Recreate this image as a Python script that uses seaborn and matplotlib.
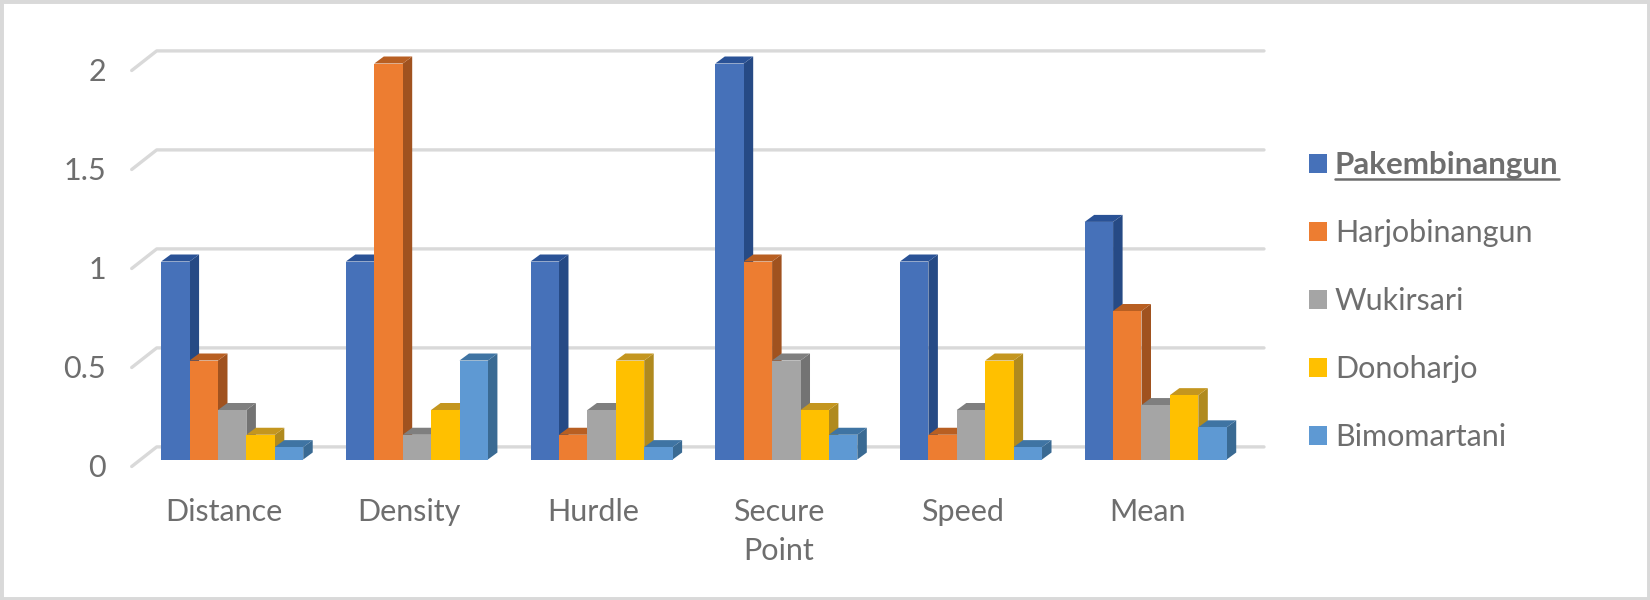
import matplotlib
matplotlib.use("Agg")
import matplotlib.pyplot as plt
from matplotlib.lines import Line2D
from matplotlib.patches import Polygon, Rectangle, Patch
from matplotlib.transforms import Affine2D
import pandas as pd
import seaborn as sns

categories = ["Distance", "Density", "Hurdle", "Secure\nPoint", "Speed", "Mean"]
pakembinangun = [1, 1, 1, 2, 1, 1.2]
harjobinangun = [0.5, 2, 0.125, 1, 0.125, 0.75]
wukirsari = [0.25, 0.125, 0.25, 0.5, 0.25, 0.275]
donoharjo = [0.125, 0.25, 0.5, 0.25, 0.5, 0.325]
bimomartani = [0.0625, 0.5, 0.0625, 0.125, 0.0625, 0.1625]
series_names = ["Pakembinangun", "Harjobinangun", "Wukirsari", "Donoharjo", "Bimomartani"]
series_values = [pakembinangun, harjobinangun, wukirsari, donoharjo, bimomartani]
front_colors = ["#4671B9", "#ED7D31", "#A5A5A5", "#FFC000", "#5E99D3"]
side_colors = ["#264A85", "#A0521F", "#737373", "#B08A1E", "#3A6A93"]
top_colors = ["#2A5296", "#B85F22", "#7F7F7F", "#C4961F", "#3F74A3"]
y_ticks = [0, 0.5, 1, 1.5, 2]
y_labels = ["0", "0.5", "1", "1.5", "2"]

sns.set_theme(style="white")
TEXT = "#6E6E6E"
plt.rcParams["font.family"] = ["Lato", "DejaVu Sans"]

W, H = 1650, 600
fig = plt.figure(figsize=(W / 100, H / 100), dpi=100, facecolor="white")
L, R, B, T = 131.7, 1264.0, 459.5, 50.5
ax = fig.add_axes([L / W, 1 - B / H, (R - L) / W, (B - T) / H])
ax.patch.set_alpha(0)

df = pd.DataFrame(
    [(c, n, v) for n, vals in zip(series_names, series_values) for c, v in zip(categories, vals)],
    columns=["cat", "village", "value"],
)
sns.barplot(data=df, x="cat", y="value", hue="village", hue_order=series_names,
            order=categories, palette=front_colors, saturation=1, width=0.769,
            gap=0, linewidth=0, legend=False, ax=ax)

PX_X = 184.7   # pixels per category
PX_Y = 198.0   # pixels per unit
ax.set_xlim((L - 232.2) / PX_X, (R - 232.2) / PX_X)
ax.set_ylim(0, (B - T) / PX_Y)
ddx, ddy = 9.5 / PX_X, 7.0 / PX_Y

for i, cont in enumerate(ax.containers):
    for p in cont.patches:
        x0, w, h = p.get_x(), p.get_width(), p.get_height()
        x1 = x0 + w
        p.set_zorder(3 + i + 0.5)
        side = Polygon([(x1, 0), (x1 + ddx, ddy), (x1 + ddx, h + ddy), (x1, h)],
                       closed=True, fc=side_colors[i], ec="none", zorder=3 + i, clip_on=False)
        top = Polygon([(x0, h), (x0 + ddx, h + ddy), (x1 + ddx, h + ddy), (x1, h)],
                      closed=True, fc=top_colors[i], ec="none", zorder=3 + i, clip_on=False)
        ax.add_patch(side)
        ax.add_patch(top)

# back wall gridlines with slanted floor/wall return
xl, xr = ax.get_xlim()
back_x = xl + 25.0 / PX_X
for v in y_ticks:
    yb = v + 12.6 / PX_Y
    yf = v - 7.0 / PX_Y
    ax.plot([xl, back_x, xr], [yf, yb, yb], color="#D9D9D9", lw=2.4, zorder=1,
            clip_on=False, solid_joinstyle="round")

ax.set_yticks(y_ticks)
ax.set_yticklabels(y_labels)
ax.set_xlabel("")
ax.set_ylabel("")
ax.tick_params(axis="y", length=0, pad=18.5, labelsize=22, labelcolor=TEXT)
ax.tick_params(axis="x", length=0, pad=27.5, labelsize=22, labelcolor=TEXT)
for s in ax.spines.values():
    s.set_visible(False)
for lab in ax.get_yticklabels():
    lab.set_transform(lab.get_transform() + Affine2D().translate(0, -6))
for lab in ax.get_xticklabels():
    lab.set_linespacing(1.5)
    lab.set_transform(lab.get_transform() + Affine2D().translate(-8, 0))

handles = [Patch(fc=c, ec="none") for c in front_colors]
leg = fig.legend(handles, series_names, loc="upper left", bbox_to_anchor=(1309 / W, 1 - 151 / H),
                 frameon=False, fontsize=22, labelcolor=TEXT, handlelength=0.59, handleheight=0.59,
                 handletextpad=0.26, labelspacing=1.31, borderpad=0, borderaxespad=0)
leg.get_texts()[0].set_fontweight("bold")
leg.get_texts()[0].set_fontsize(22.5)

fig.canvas.draw()
bb = leg.get_texts()[0].get_window_extent()
fig.add_artist(Line2D([bb.x0 / W, bb.x1 / W], [1 - 178.7 / H] * 2, color=TEXT, lw=1.8))

fig.add_artist(Rectangle((0, 0), 1, 1, transform=fig.transFigure, fc="none", ec="#D9D9D9", lw=5))
fig.savefig("out.png", dpi=100, facecolor="white")
